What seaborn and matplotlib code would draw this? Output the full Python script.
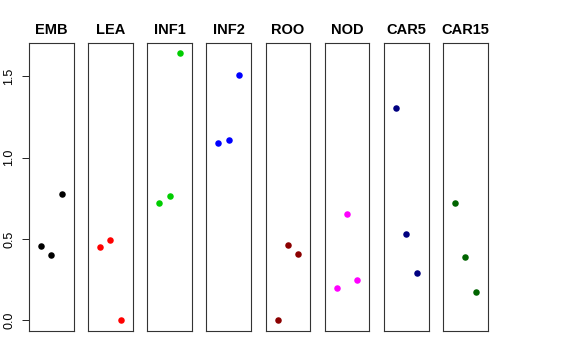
import matplotlib
matplotlib.use("Agg")
import matplotlib.pyplot as plt
import seaborn as sns
import pandas as pd

tissues = ["EMB", "LEA", "INF1", "INF2", "ROO", "NOD", "CAR5", "CAR15"]
colors = ["#000000", "#FF0000", "#00CD00", "#0000FF", "#8B0000", "#FF00FF", "#000080", "#006400"]
rep = [1, 2, 3]
emb = [0.456, 0.400, 0.775]
lea = [0.448, 0.493, 0.000]
inf1 = [0.721, 0.766, 1.642]
inf2 = [1.093, 1.110, 1.510]
roo = [0.000, 0.462, 0.407]
nod = [0.199, 0.653, 0.247]
car5 = [1.309, 0.530, 0.292]
car15 = [0.719, 0.388, 0.175]
values = [emb, lea, inf1, inf2, roo, nod, car5, car15]
yticks = [0.0, 0.5, 1.0, 1.5]
yticklabels = ["0.0", "0.5", "1.0", "1.5"]

sns.set_style("white")
plt.rcParams["font.family"] = ["Liberation Sans", "DejaVu Sans"]
plt.rcParams["text.color"] = "black"
plt.rcParams["ytick.color"] = "black"
plt.rcParams["axes.titlecolor"] = "black"

W, H = 576, 360
fig = plt.figure(figsize=(W / 100, H / 100), dpi=100)
ymax = max(max(v) for v in values)
ylim = (-0.04 * ymax, ymax * 1.04)

for i, (name, col, vals) in enumerate(zip(tissues, colors, values)):
    left = 29 + i * 59.14
    ax = fig.add_axes([left / W, (H - 331) / H, 44.7 / W, (331 - 42.7) / H])
    df = pd.DataFrame({"x": rep, "y": vals})
    sns.scatterplot(data=df, x="x", y="y", color=col, s=22, linewidth=0, ax=ax)
    ax.set_xlim(-0.16, 4.16)
    ax.set_ylim(*ylim)
    ax.set_xticks([])
    ax.set_xlabel("")
    ax.set_ylabel("")
    ax.set_title(name, fontsize=10.5, fontweight="bold", pad=6, color="black")
    for sp in ax.spines.values():
        sp.set_visible(True)
        sp.set_color("#333333")
        sp.set_linewidth(0.8)
    if i == 0:
        ax.set_yticks(yticks)
        ax.set_yticklabels(yticklabels, rotation=90, va="center", fontsize=9, color="black")
        ax.tick_params(axis="y", left=True, length=5, width=0.6, pad=5, color="black")
    else:
        ax.set_yticks([])

fig.savefig("out.png", dpi=100)
